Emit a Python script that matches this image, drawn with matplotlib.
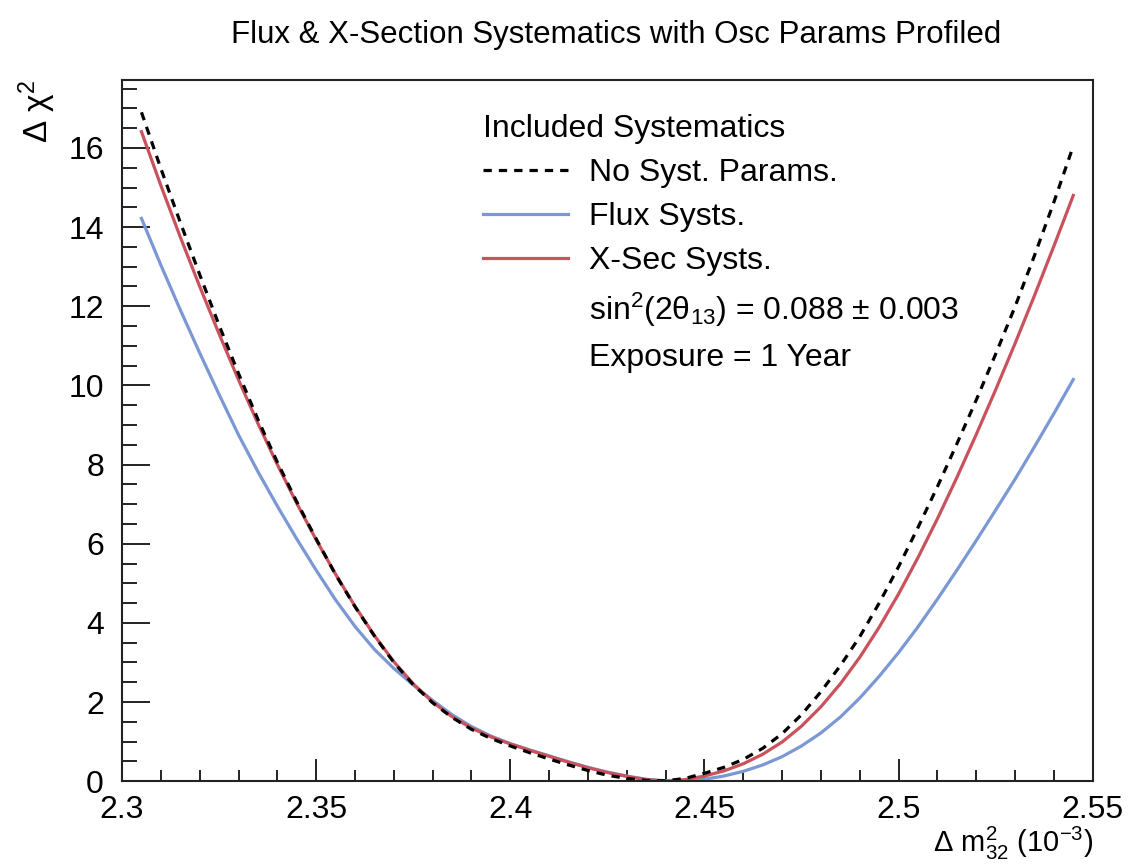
import matplotlib
matplotlib.use("Agg")
import matplotlib.pyplot as plt
from matplotlib.ticker import MultipleLocator

plt.rcParams['font.family'] = ['Liberation Sans', 'DejaVu Sans']
plt.rcParams['mathtext.fontset'] = 'custom'
plt.rcParams['mathtext.rm'] = 'Liberation Sans'
plt.rcParams['mathtext.it'] = 'Liberation Sans:italic'

# delta m^2_32 scan points (10^-3 eV^2)
dm32 = [2.305, 2.310, 2.315, 2.320, 2.325, 2.330, 2.335, 2.340, 2.345, 2.350,
        2.355, 2.360, 2.365, 2.370, 2.375, 2.380, 2.385, 2.390, 2.395, 2.400,
        2.405, 2.410, 2.415, 2.420, 2.425, 2.430, 2.435, 2.440, 2.445, 2.450,
        2.455, 2.460, 2.465, 2.470, 2.475, 2.480, 2.485, 2.490, 2.495, 2.500,
        2.505, 2.510, 2.515, 2.520, 2.525, 2.530, 2.535, 2.540, 2.545]

chi2_nosyst = [16.90, 15.48, 14.12, 12.80, 11.52, 10.30, 9.14, 8.06, 7.06, 6.12,
               5.22, 4.41, 3.67, 3.00, 2.44, 1.98, 1.61, 1.31, 1.08, 0.89,
               0.72, 0.56, 0.41, 0.27, 0.15, 0.07, 0.02, 0.01, 0.07, 0.20,
               0.35, 0.55, 0.83, 1.20, 1.68, 2.26, 2.92, 3.65, 4.50, 5.42,
               6.41, 7.44, 8.52, 9.63, 10.79, 11.99, 13.28, 14.63, 16.05]

chi2_flux = [14.22, 13.04, 11.91, 10.82, 9.77, 8.75, 7.82, 6.95, 6.12, 5.33,
             4.58, 3.91, 3.33, 2.85, 2.43, 2.04, 1.68, 1.38, 1.14, 0.95,
             0.79, 0.64, 0.49, 0.35, 0.23, 0.13, 0.05, 0.01, 0.01, 0.05,
             0.13, 0.25, 0.41, 0.62, 0.89, 1.22, 1.62, 2.10, 2.65, 3.25,
             3.90, 4.60, 5.33, 6.08, 6.85, 7.63, 8.45, 9.29, 10.15]

chi2_xsec = [16.41, 15.05, 13.75, 12.50, 11.30, 10.14, 9.04, 8.00, 7.02, 6.10,
             5.23, 4.42, 3.68, 3.02, 2.46, 2.00, 1.63, 1.34, 1.12, 0.94,
             0.78, 0.63, 0.48, 0.34, 0.22, 0.12, 0.04, 0.00, 0.04, 0.13,
             0.26, 0.44, 0.68, 0.99, 1.39, 1.88, 2.46, 3.13, 3.89, 4.73,
             5.65, 6.63, 7.67, 8.76, 9.89, 11.06, 12.27, 13.52, 14.80]

c_flux = '#7b98d4'
c_xsec = '#c9525d'

fig = plt.figure(figsize=(11.3, 8.68), dpi=100)
ax = fig.add_axes([0.108, 0.100, 0.859, 0.808])

ax.plot(dm32, chi2_flux, color=c_flux, lw=2.3, label='Flux Systs.')
ax.plot(dm32, chi2_xsec, color=c_xsec, lw=2.3, label='X-Sec Systs.')
ax.plot(dm32, chi2_nosyst, color='black', lw=2.3, ls=(0, (2.6, 2.2)),
        label='No Syst. Params.')

ax.set_xlim(2.3, 2.55)
ax.set_ylim(0, 17.72)

ax.xaxis.set_minor_locator(MultipleLocator(0.01))
ax.yaxis.set_major_locator(MultipleLocator(2))
ax.yaxis.set_minor_locator(MultipleLocator(0.5))
ax.set_xticks([2.3, 2.35, 2.4, 2.45, 2.5, 2.55])
ax.set_xticklabels(['2.3', '2.35', '2.4', '2.45', '2.5', '2.55'])

ax.tick_params(axis='both', which='both', direction='in', top=False, right=False,
               labelsize=23, width=1.4, color='#222222')
ax.tick_params(axis='x', which='major', length=16, pad=10)
ax.tick_params(axis='x', which='minor', length=8)
ax.tick_params(axis='y', which='major', length=20, pad=13)
ax.tick_params(axis='y', which='minor', length=11)
for sp in ax.spines.values():
    sp.set_linewidth(1.5)
    sp.set_color('#222222')

ax.set_xlabel('Δ m$^{2}_{32}$ (10$^{-3}$)', fontsize=21, loc='right', labelpad=0)
ax.set_ylabel('Δ χ$^{2}$', fontsize=24, loc='top')
ax.yaxis.set_label_coords(-0.066, 1.0)

fig.text(0.545, 0.960, 'Flux & X-Section Systematics with Osc Params Profiled',
         ha='center', va='center', fontsize=22.5)

# legend order: reference first, then the two systematic sets, then notes
h, l = ax.get_legend_handles_labels()
h = [h[2], h[0], h[1]]
l = [l[2], l[0], l[1]]
blank = plt.Line2D([], [], color='none')
h += [blank, blank]
l += ['sin$^{2}$(2θ$_{13}$) = 0.088 ± 0.003', 'Exposure = 1 Year']
leg = ax.legend(h, l, title='Included Systematics', loc='upper left',
                bbox_to_anchor=(0.342, 0.992), frameon=False, fontsize=23,
                title_fontsize=23, handlelength=2.66, handletextpad=0.66,
                labelspacing=0.44, alignment='left')

fig.savefig('out.png', dpi=100)
